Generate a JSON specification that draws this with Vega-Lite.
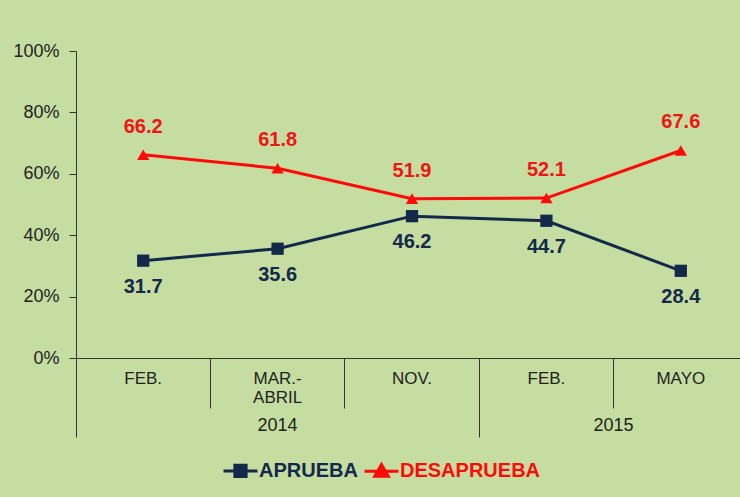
{
  "$schema": "https://vega.github.io/schema/vega-lite/v6.json",
  "width": 664,
  "height": 307,
  "autosize": {"type": "none"},
  "padding": {"left": 76, "top": 51, "right": 0, "bottom": 139},
  "background": "#c5dda1",
  "config": {"view": {"stroke": null}, "font": "Liberation Sans"},
  "datasets": {
    "puntos": [
      {"periodo": "FEB. 2014", "serie": "APRUEBA", "valor": 31.7},
      {"periodo": "MAR.-ABRIL 2014", "serie": "APRUEBA", "valor": 35.6},
      {"periodo": "NOV. 2014", "serie": "APRUEBA", "valor": 46.2},
      {"periodo": "FEB. 2015", "serie": "APRUEBA", "valor": 44.7},
      {"periodo": "MAYO 2015", "serie": "APRUEBA", "valor": 28.4},
      {"periodo": "FEB. 2014", "serie": "DESAPRUEBA", "valor": 66.2},
      {"periodo": "MAR.-ABRIL 2014", "serie": "DESAPRUEBA", "valor": 61.8},
      {"periodo": "NOV. 2014", "serie": "DESAPRUEBA", "valor": 51.9},
      {"periodo": "FEB. 2015", "serie": "DESAPRUEBA", "valor": 52.1},
      {"periodo": "MAYO 2015", "serie": "DESAPRUEBA", "valor": 67.6}
    ],
    "anios": [
      {"anio": "2014", "periodo": "MAR.-ABRIL 2014"},
      {"anio": "2015", "periodo": "MAYO 2015"}
    ]
  },
  "layer": [
    {
      "data": {"name": "puntos"},
      "encoding": {
        "x": {
          "field": "periodo",
          "type": "nominal",
          "sort": null,
          "bandPosition": 0.5,
          "scale": {
            "type": "band",
            "domain": ["FEB. 2014", "MAR.-ABRIL 2014", "NOV. 2014", "FEB. 2015", "MAYO 2015"],
            "range": [0, 672],
            "paddingInner": 0,
            "paddingOuter": 0
          },
          "axis": {
            "title": null,
            "domainColor": "#333333",
            "tickColor": "#333333",
            "bandPosition": 0,
            "tickSize": {"condition": {"test": "indexof(datum.value, 'FEB.') == 0", "value": 79}, "value": 50},
            "labelPadding": {"condition": {"test": "indexof(datum.value, 'FEB.') == 0", "value": -67}, "value": -38},
            "labelExpr": "datum.value == 'MAR.-ABRIL 2014' ? ['MAR.-', 'ABRIL'] : split(datum.value, ' ')[0]",
            "labelBaseline": "top",
            "labelFontSize": 17,
            "labelLineHeight": 19,
            "labelColor": "#222222",
            "labelAngle": 0
          }
        },
        "y": {
          "field": "valor",
          "type": "quantitative",
          "scale": {"domain": [0, 100], "nice": false},
          "axis": {
            "title": null,
            "values": [0, 20, 40, 60, 80, 100],
            "labelExpr": "datum.value + '%'",
            "tickSize": 7,
            "labelPadding": 10,
            "labelFontSize": 18,
            "labelColor": "#222222",
            "domainColor": "#333333",
            "tickColor": "#333333",
            "grid": false
          }
        }
      },
      "layer": [
        {
          "mark": {"type": "line", "strokeWidth": 3},
          "encoding": {
            "color": {
              "field": "serie",
              "type": "nominal",
              "scale": {"domain": ["APRUEBA", "DESAPRUEBA"], "range": ["#14284a", "#ff0a0a"]},
              "legend": {
                "orient": "none",
                "legendX": 146,
                "legendY": 401,
                "direction": "horizontal",
                "title": null,
                "labelFontSize": 20,
                "labelFontWeight": "bold",
                "symbolSize": 1156,
                "symbolStrokeWidth": 3,
                "labelOffset": 0,
                "columnPadding": 0,
                "encode": {
                  "labels": {"update": {"fill": {"signal": "datum.value == 'APRUEBA' ? '#14284a' : '#ff0a0a'"}}},
                  "symbols": {"update": {
                    "shape": {"signal": "datum.value == 'APRUEBA' ? 'M-1,0H1M-0.33,-0.33H0.33V0.33H-0.33Z' : 'M-1,0H1M0,-0.4L0.4,0.3H-0.4Z'"},
                    "fill": {"signal": "datum.value == 'APRUEBA' ? '#14284a' : '#ff0a0a'"},
                    "stroke": {"signal": "datum.value == 'APRUEBA' ? '#14284a' : '#ff0a0a'"},
                    "strokeWidth": {"value": 3}
                  }}
                }
              }
            }
          }
        },
        {
          "transform": [{"filter": "datum.serie == 'APRUEBA'"}],
          "mark": {"type": "point", "filled": true, "opacity": 1, "size": 150, "shape": "square", "color": "#14284a"}
        },
        {
          "transform": [{"filter": "datum.serie == 'DESAPRUEBA'"}],
          "mark": {"type": "point", "filled": true, "opacity": 1, "size": 150, "shape": "triangle-up", "color": "#ff0a0a"}
        },
        {
          "transform": [{"filter": "datum.serie == 'APRUEBA'"}],
          "mark": {"type": "text", "dy": 26, "fontSize": 20, "fontWeight": "bold", "color": "#14284a"},
          "encoding": {"text": {"field": "valor", "type": "quantitative", "format": ".1f"}}
        },
        {
          "transform": [{"filter": "datum.serie == 'DESAPRUEBA'"}],
          "mark": {"type": "text", "dy": -28, "fontSize": 20, "fontWeight": "bold", "color": "#f01414"},
          "encoding": {"text": {"field": "valor", "type": "quantitative", "format": ".1f"}}
        }
      ]
    },
    {
      "data": {"name": "anios"},
      "transform": [{"filter": "datum.anio == '2014'"}],
      "mark": {"type": "text", "fontSize": 18, "fill": "#222222", "baseline": "middle"},
      "encoding": {
        "x": {"field": "periodo", "type": "nominal", "bandPosition": 0.5},
        "y": {"datum": -22, "type": "quantitative"},
        "text": {"field": "anio", "type": "nominal"}
      }
    },
    {
      "data": {"name": "anios"},
      "transform": [{"filter": "datum.anio == '2015'"}],
      "mark": {"type": "text", "fontSize": 18, "fill": "#222222", "baseline": "middle"},
      "encoding": {
        "x": {"field": "periodo", "type": "nominal", "bandPosition": 0},
        "y": {"datum": -22, "type": "quantitative"},
        "text": {"field": "anio", "type": "nominal"}
      }
    }
  ]
}
